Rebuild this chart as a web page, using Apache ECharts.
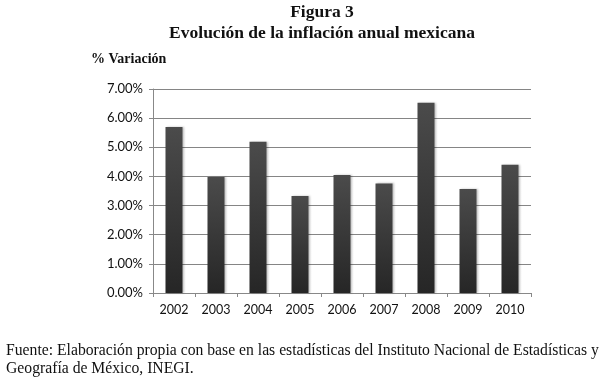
<!DOCTYPE html>
<html>
<head>
<meta charset="utf-8">
<script src="https://cdn.jsdelivr.net/npm/echarts@6/dist/echarts.min.js"></script>
<style>
  html, body { margin: 0; padding: 0; background: #fff; }
  #chart { width: 607px; height: 381px; }
</style>
</head>
<body>
<div id="chart"></div>
<script>
var years = ['2002', '2003', '2004', '2005', '2006', '2007', '2008', '2009', '2010'];
var inflacion = [5.70, 3.98, 5.19, 3.33, 4.05, 3.76, 6.53, 3.57, 4.40];
var yTicks = [0, 1, 2, 3, 4, 5, 6, 7];

var myChart = echarts.init(document.getElementById('chart'));
var option = {
  backgroundColor: '#fff',
  animation: false,
  title: [
    {
      text: 'Figura 3',
      left: 322, top: 3, textAlign: 'center', padding: 0,
      textStyle: { fontFamily: 'Liberation Serif', fontWeight: 'bold', fontSize: 17.5, color: '#111' }
    },
    {
      text: 'Evolución de la inflación anual mexicana',
      left: 322, top: 24, textAlign: 'center', padding: 0,
      textStyle: { fontFamily: 'Liberation Serif', fontWeight: 'bold', fontSize: 17.5, color: '#111' }
    },
    {
      text: '% Variación',
      left: 91, top: 52, padding: 0,
      textStyle: { fontFamily: 'Liberation Serif', fontWeight: 'bold', fontSize: 14, color: '#111' }
    },
    {
      text: 'Fuente: Elaboración propia con base en las estadísticas del Instituto Nacional de Estadísticas y\nGeografía de México, INEGI.',
      left: 6, top: 342, padding: 0,
      textStyle: { fontFamily: 'Liberation Serif', fontWeight: 'normal', fontSize: 15.7, lineHeight: 18, color: '#111' }
    }
  ],
  grid: { left: 153, right: 76, top: 89, bottom: 88 },
  xAxis: {
    type: 'category',
    data: years,
    axisLine: { show: true, lineStyle: { color: '#888', width: 1 } },
    axisTick: { show: true, length: 4, lineStyle: { color: '#888' } },
    axisLabel: { fontFamily: 'Lato', fontSize: 12.5, color: '#111', margin: 10 }
  },
  yAxis: {
    type: 'value',
    min: yTicks[0],
    max: yTicks[yTicks.length - 1],
    interval: 1,
    axisLine: { show: true, lineStyle: { color: '#888', width: 1 } },
    axisTick: { show: true, length: 4, lineStyle: { color: '#888' } },
    splitLine: { show: true, lineStyle: { color: '#858585', width: 1 } },
    axisLabel: {
      fontFamily: 'Lato', fontSize: 13, color: '#111', margin: 10,
      formatter: function (v) { return v.toFixed(2) + '%'; }
    }
  },
  series: [
    {
      type: 'bar',
      data: inflacion,
      barWidth: 17,
      itemStyle: {
        color: {
          type: 'linear', x: 0, y: 0, x2: 0, y2: 1,
          colorStops: [
            { offset: 0, color: '#4b4b4b' },
            { offset: 1, color: '#262626' }
          ]
        },
        shadowColor: 'rgba(0,0,0,0.25)',
        shadowBlur: 2,
        shadowOffsetX: 1.5
      }
    }
  ]
};

option && myChart.setOption(option);
window.addEventListener('resize', function () {
  myChart.resize();
});
</script>
</body>
</html>
